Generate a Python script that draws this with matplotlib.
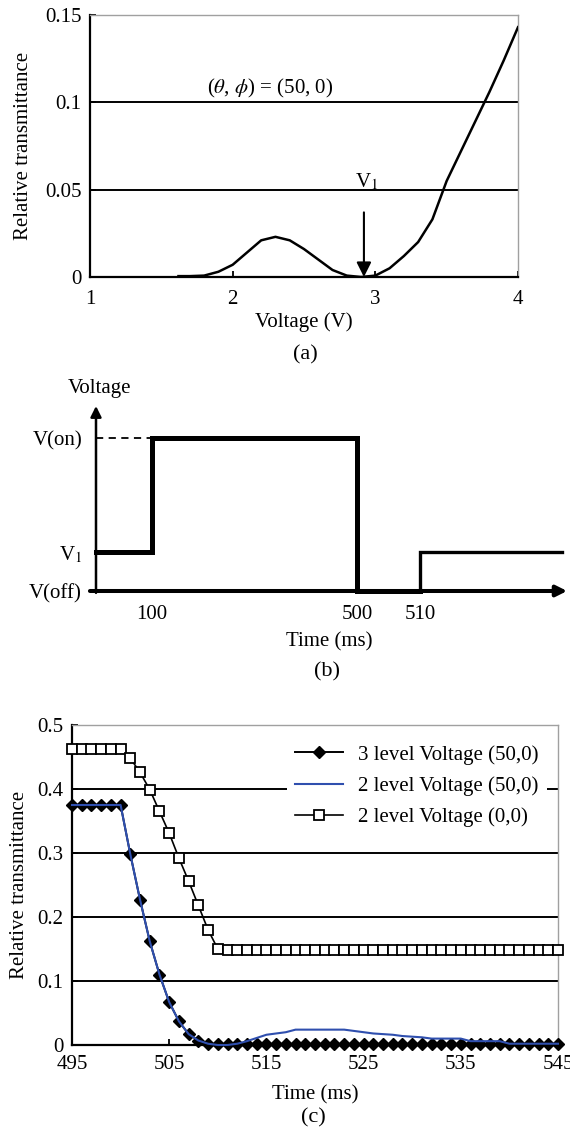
import matplotlib
matplotlib.use('Agg')
import matplotlib.pyplot as plt
import numpy as np

plt.rcParams['font.family'] = ['Liberation Serif', 'DejaVu Serif']
plt.rcParams['mathtext.fontset'] = 'stix'
plt.rcParams['font.size'] = 15

### Datos panel (a): transmitancia vs voltaje ###
volt_a = [1.62, 1.7, 1.8, 1.9, 2.0, 2.1, 2.2, 2.3, 2.4, 2.5, 2.6, 2.7, 2.8, 2.9,
          3.0, 3.1, 3.2, 3.3, 3.4, 3.5, 3.6, 3.7, 3.8, 3.9, 4.0]
trans_a = [0.0005, 0.0005, 0.0008, 0.003, 0.007, 0.014, 0.021, 0.023, 0.021, 0.016,
           0.010, 0.004, 0.0008, 0.0, 0.0008, 0.005, 0.012, 0.020, 0.033, 0.055,
           0.072, 0.089, 0.106, 0.124, 0.143]
v1_pos = 2.92

### Datos panel (b): forma de onda (esquemática) ###
v_off, v_1, v_on = 0.0, 1.05, 4.13
wave_t = [0, 100, 100, 500, 500, 510]
wave_v = [v_1, v_1, v_on, v_on, v_off, v_off]
tail_t = [510, 510, 600]
tail_v = [v_off, v_1, v_1]
time_ticks_b = [100, 500, 510]

### Datos panel (c): respuesta temporal ###
time_c = np.arange(495, 546)
three_level_50 = ([0.375] * 6 +
                  [0.298, 0.227, 0.162, 0.110, 0.067, 0.037, 0.017, 0.007, 0.001] +
                  [0.001] * 36)
two_level_50 = ([0.375] * 6 +
                [0.298, 0.227, 0.162, 0.110, 0.067, 0.037, 0.017, 0.007, 0.002,
                 0.0, 0.0, 0.002, 0.006, 0.011, 0.016, 0.018, 0.020,
                 0.024, 0.024, 0.024, 0.024, 0.024, 0.024,
                 0.022, 0.020, 0.018, 0.017, 0.016, 0.014, 0.013, 0.012,
                 0.010, 0.010, 0.010, 0.010,
                 0.006, 0.006, 0.006, 0.006] +
                [0.002] * 6)
two_level_00 = ([0.462] * 6 +
                [0.448, 0.426, 0.399, 0.365, 0.331, 0.292, 0.256, 0.218, 0.180, 0.150] +
                [0.148] * 35)

W, H = 570, 1131
fig = plt.figure(figsize=(W / 100, H / 100), dpi=100)


def caja(l, t, r, b):
    return [l / W, 1 - b / H, (r - l) / W, (b - t) / H]


def estilo_excel(ax):
    for s in ['top', 'right']:
        ax.spines[s].set_color('#a0a0a0')
        ax.spines[s].set_linewidth(1.0)
    for s in ['left', 'bottom']:
        ax.spines[s].set_color('k')
        ax.spines[s].set_linewidth(1.6)
    ax.tick_params(direction='in', length=4, width=1.3, labelsize=15)


### Panel (a) ###
axa = fig.add_axes(caja(90, 15, 518, 277))
estilo_excel(axa)
yt_a = [0, 0.05, 0.1, 0.15]
for y in yt_a[1:-1]:
    axa.axhline(y, color='k', lw=1.4, zorder=1)
axa.plot(volt_a, trans_a, color='k', lw=1.8, zorder=3)
axa.set_xlim(1, 4)
axa.set_ylim(0, 0.15)
axa.set_xticks([1, 2, 3, 4])
axa.set_yticks(yt_a)
axa.set_yticklabels(['0', '0.05', '0.1', '0.15'])
axa.tick_params(axis='x', pad=9)
axa.tick_params(axis='y', pad=6)
axa.set_xlabel('Voltage (V)', fontsize=15, labelpad=3)
axa.set_ylabel('Relative transmittance', fontsize=15, labelpad=9)
axa.annotate('', xy=(v1_pos, 0.0), xytext=(v1_pos, 0.037),
             arrowprops=dict(arrowstyle='-|>', color='k', lw=1.5,
                             mutation_scale=22, shrinkA=0, shrinkB=0))
axa.text(v1_pos + 0.02, 0.0545, 'V$_1$', ha='center', va='center', fontsize=15)
axa.text(2.26, 0.108, r'($\theta$, $\phi$) = (50, 0)', ha='center', va='center', fontsize=15)
fig.text(305 / W, 1 - 355 / H, '(a)', ha='center', va='center', fontsize=16)

### Panel (b) ###
t_break = [0, 100, 500, 510, 600]
px_break = [0, 56, 261, 324, 466]


def fwd(t):
    return np.interp(t, t_break, px_break)


def inv(p):
    return np.interp(p, px_break, t_break)


axb = fig.add_axes(caja(96, 406, 562, 591))
axb.set_xscale('function', functions=(fwd, inv))
axb.set_xlim(0, 600)
axb.set_ylim(0, 5)
for s in axb.spines.values():
    s.set_visible(False)
axb.plot(wave_t, wave_v, color='k', lw=3.6, solid_joinstyle='miter', clip_on=False, zorder=3)
axb.plot(tail_t, tail_v, color='k', lw=2.4, solid_joinstyle='miter', clip_on=False, zorder=3)
axb.plot([0, 100], [v_on, v_on], color='k', lw=1.3, ls=(0, (4, 3)))
# ejes con flechas
axb.annotate('', xy=(0, 1.0), xytext=(0, -0.01), xycoords='axes fraction',
             arrowprops=dict(arrowstyle='-|>', color='k', lw=1.8,
                             mutation_scale=16, shrinkA=0, shrinkB=0))
axb.annotate('', xy=(1.011, 0), xytext=(-0.013, 0), xycoords='axes fraction',
             arrowprops=dict(arrowstyle='-|>', color='k', lw=2.9,
                             mutation_scale=16, shrinkA=0, shrinkB=0))
axb.set_xticks(time_ticks_b)
axb.set_xticklabels([str(t) for t in time_ticks_b])
axb.set_yticks([v_off, v_1, v_on])
axb.set_yticklabels(['V(off)', 'V$_1$', 'V(on)'])
axb.tick_params(axis='both', length=0, labelsize=15)
axb.tick_params(axis='x', pad=10)
axb.tick_params(axis='y', pad=10)
axb.set_xlabel('Time (ms)', fontsize=15, labelpad=6)
fig.text(100 / W, 1 - 388 / H, 'Voltage', ha='center', va='center', fontsize=15)
fig.text(327 / W, 1 - 672 / H, '(b)', ha='center', va='center', fontsize=16)

### Panel (c) ###
axc = fig.add_axes(caja(72, 725, 558, 1045))
estilo_excel(axc)
yt_c = [0, 0.1, 0.2, 0.3, 0.4, 0.5]
for y in yt_c[1:-1]:
    axc.axhline(y, color='k', lw=1.4, zorder=1)
axc.plot(time_c, three_level_50, color='k', lw=1.4, marker='D', ms=6.5,
         mfc='k', mec='k', clip_on=False, zorder=3, label='3 level Voltage (50,0)')
axc.plot(time_c, two_level_50, color='#2f4fae', lw=1.5, clip_on=False, zorder=4,
         label='2 level Voltage (50,0)')
axc.plot(time_c, two_level_00, color='k', lw=1.2, marker='s', ms=7,
         mfc='white', mec='k', mew=1.3, clip_on=False, zorder=3,
         label='2 level Voltage (0,0)')
axc.set_xlim(495, 545)
axc.set_ylim(0, 0.5)
axc.set_xticks(np.arange(495, 546, 10))
axc.set_yticks(yt_c)
axc.set_yticklabels(['0', '0.1', '0.2', '0.3', '0.4', '0.5'])
axc.tick_params(axis='x', pad=7)
axc.tick_params(axis='y', pad=6)
axc.set_xlabel('Time (ms)', fontsize=15, labelpad=8)
axc.set_ylabel('Relative transmittance', fontsize=15, labelpad=6)
leg = axc.legend(loc='upper right', fontsize=15, frameon=True, fancybox=False,
                 facecolor='white', edgecolor='none', framealpha=1,
                 handlelength=2.3, handletextpad=0.7, labelspacing=0.56,
                 borderaxespad=0.55, borderpad=0.4)
leg.set_zorder(5)
fig.text(313 / W, 1 - 1118 / H, '(c)', ha='center', va='center', fontsize=16)

plt.savefig('out.png', dpi=100)
